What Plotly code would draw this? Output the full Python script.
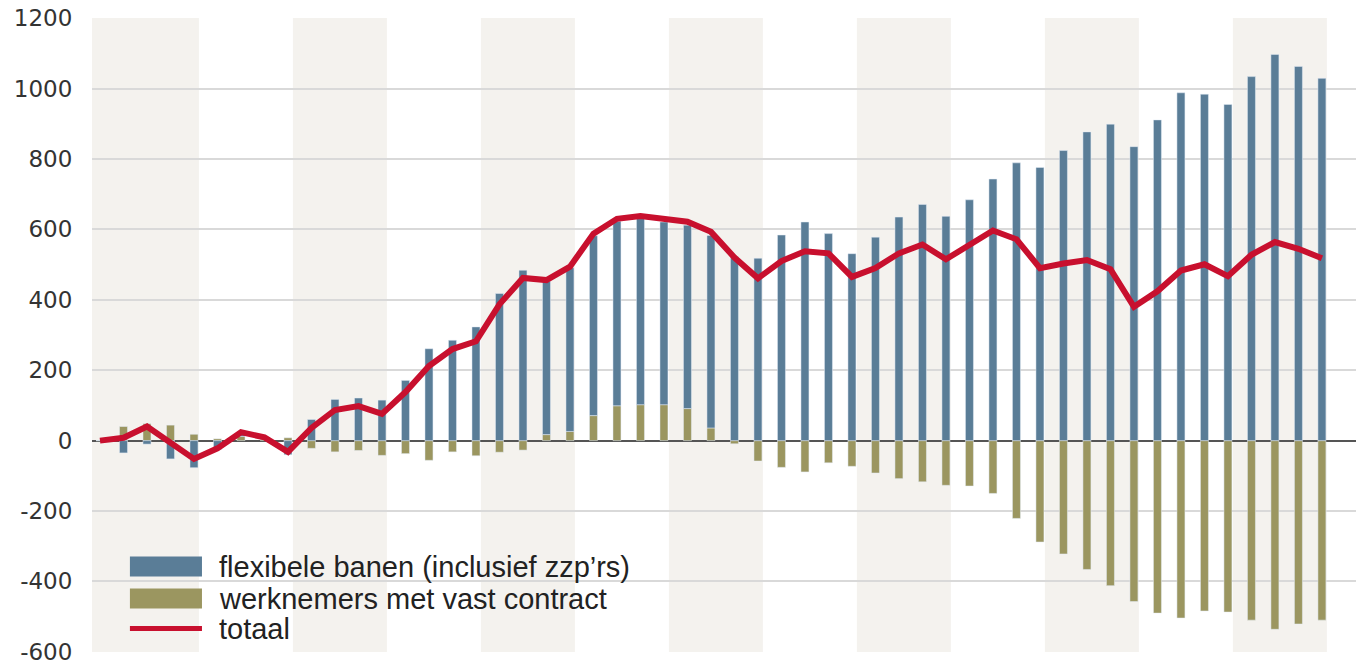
import plotly.graph_objects as go

# quarterly change in jobs (x 1000)
kwartaal = list(range(53))
flexibel = [0, -35, -10, -52, -77, -25, 12, 5, -40, 60,
            117, 121, 115, 171, 261, 285, 323, 418, 484, 435,
            465, 511, 524, 529, 519, 521, 547, 522, 518, 584,
            621, 588, 531, 578, 635, 671, 637, 684, 743, 789,
            776, 824, 877, 899, 835, 911, 988, 984, 955, 1034,
            1097, 1063, 1029]
vast = [0, 40, 48, 44, 18, 5, 12, 4, 8, -22,
        -32, -28, -42, -37, -56, -32, -43, -33, -27, 17,
        26, 71, 99, 102, 102, 91, 36, -9, -58, -76,
        -89, -63, -73, -92, -108, -117, -127, -129, -150, -221,
        -288, -322, -366, -412, -457, -490, -504, -484, -487, -510,
        -536, -521, -510]
totaal = [0, 8, 40, -5, -52, -22, 24, 9, -32, 36,
          87, 98, 76, 138, 212, 260, 282, 387, 462, 456,
          494, 588, 630, 638, 632, 622, 593, 520, 461, 510,
          538, 532, 465, 490, 532, 557, 515, 557, 597, 572,
          490, 503, 513, 487, 380, 424, 483, 501, 467, 528,
          564, 545, 518]

namen = ["flexibele banen (inclusief zzp’rs)", "werknemers met vast contract", "totaal"]
y_ticks = list(range(-600, 1201, 200))
y_labels = [str(v) for v in y_ticks]

BLAUW = "#5a7d97"
OLIJF = "#9b9660"
ROOD = "#c8102e"
BAND = "#f4f2ee"
FONT = "Liberation Sans"

fig = go.Figure()
fig.add_trace(go.Bar(x=kwartaal, y=vast, name=namen[1], marker_color=OLIJF,
                     width=0.34, showlegend=False))
fig.add_trace(go.Bar(x=kwartaal, y=flexibel, name=namen[0], marker_color=BLAUW,
                     width=0.34, showlegend=False))
fig.add_trace(go.Scatter(x=kwartaal, y=totaal, name=namen[2], mode="lines",
                         line=dict(color=ROOD, width=6), showlegend=False))

# alternating year bands (4 quarters each)
x_min, x_max = -0.34, 53.45
for j in range(7):
    x0 = 8 * j + 0.21 if j else -4
    fig.add_shape(type="rect", xref="x", yref="paper", x0=x0, x1=8 * j + 4.21,
                  y0=0, y1=1, fillcolor=BAND, line_width=0, layer="below")

# hand-made legend with wide swatches
leg_x0, leg_x1, leg_tx = 0.030, 0.087, 0.099
for kleur, y0, y1, yt, naam in [(BLAUW, 0.1505, 0.119, 0.1348, namen[0]),
                                (OLIJF, 0.100, 0.0686, 0.0843, namen[1])]:
    fig.add_shape(type="rect", xref="paper", yref="paper", x0=leg_x0, x1=leg_x1,
                  y0=y1, y1=y0, fillcolor=kleur, line_width=0)
    fig.add_annotation(xref="paper", yref="paper", x=leg_tx, y=yt, text=naam,
                       showarrow=False, xanchor="left", yanchor="middle",
                       font=dict(family=FONT, size=29, color="#222"))
fig.add_shape(type="line", xref="paper", yref="paper", x0=leg_x0, x1=leg_x1,
              y0=0.037, y1=0.037, line=dict(color=ROOD, width=5))
fig.add_annotation(xref="paper", yref="paper", x=leg_tx, y=0.037, text=namen[2],
                   showarrow=False, xanchor="left", yanchor="middle",
                   font=dict(family=FONT, size=29, color="#222"))

fig.update_layout(
    width=1356, height=664,
    margin=dict(l=92, r=0, t=18, b=12, autoexpand=False),
    barmode="relative",
    paper_bgcolor="white", plot_bgcolor="white",
    font=dict(family="DejaVu Sans", size=23, color="#333"),
    xaxis=dict(range=[x_min, x_max], showticklabels=False, showgrid=False,
               zeroline=False, ticks="", automargin=False),
    yaxis=dict(range=[-600.5, 1200.5], tickvals=y_ticks, ticktext=y_labels,
               showgrid=True, gridcolor="#d9d9d9", gridwidth=1.5, zeroline=True,
               zerolinecolor="#555", zerolinewidth=1.5, automargin=False,
               ticklabeloverflow="allow",
               ticks="outside", ticklen=14, tickcolor="rgba(0,0,0,0)"),
)

# drop the page's default 8px body margin so the figure fills the window
fig.write_html("out.html", config={"displayModeBar": False},
               post_script="document.body.style.margin='0';")
